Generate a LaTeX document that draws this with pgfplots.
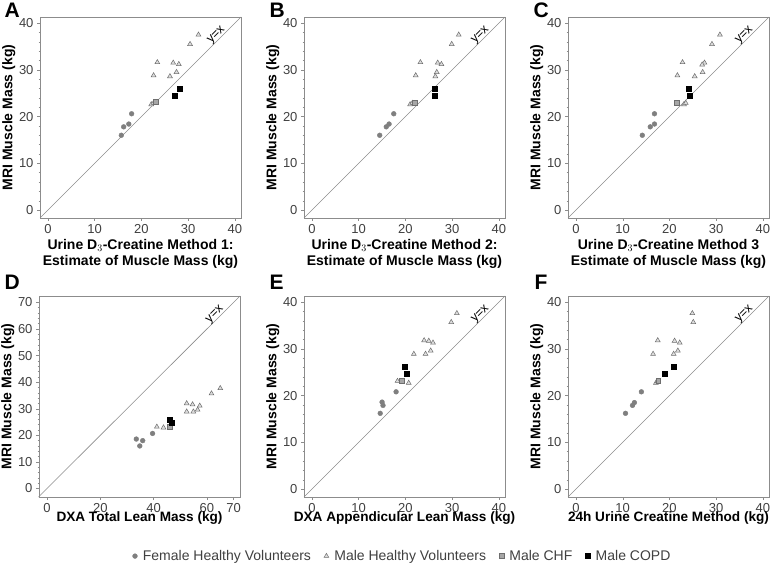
\documentclass[border=0pt]{standalone}
\usepackage{pgfplots}
\pgfplotsset{compat=1.18}
\usepackage{fontspec}
\setmainfont{Liberation Sans}
\definecolor{tickgray}{HTML}{404040}
\definecolor{axgray}{HTML}{8C8C8C}
\definecolor{fgray}{HTML}{7F7F7F}
\definecolor{tgray}{HTML}{6E6E6E}
\definecolor{tfill}{HTML}{DDDDDD}
\definecolor{cfill}{HTML}{A6A6A6}
\pgfplotsset{
  panel/.style={scale only axis, width=201pt, height=201pt,
    axis line style={axgray}, tick align=outside, tick pos=left,
    major tick length=3pt, minor tick length=1.5pt,
    every tick/.style={axgray}, minor y tick num=4,
    tick label style={font=\fontsize{13}{15}\selectfont, text=tickgray},
    /pgf/number format/assume math mode=true,
    ylabel={MRI Muscle Mass (kg)},
    ylabel style={font=\bfseries\fontsize{14}{16}\selectfont, at={(axis description cs:-0.155,0.5)}, anchor=center},
    clip=false},
  p40/.style={panel, xmin=-1.7, xmax=41.3, ymin=-1.7, ymax=41.3,
    xtick={0,10,20,30,40}, ytick={0,10,20,30,40}},
  xl2/.style={xlabel style={font=\bfseries\fontsize{14}{16}\selectfont, align=center, at={(axis description cs:0.5,-0.18)}, anchor=center}},
  xl1/.style={xlabel style={font=\bfseries\fontsize{13.6}{16}\selectfont, at={(axis description cs:0.5,-0.106)}, anchor=center}},
  fem/.style={only marks, mark=*, mark size=2.4pt, mark options={draw=fgray, fill=fgray}},
  mal/.style={only marks, mark=triangle*, mark size=2.8pt, mark options={draw=tgray, fill=tfill, line width=0.5pt}},
  chf/.style={only marks, mark=square*, mark size=2.4pt, mark options={draw=tgray, fill=cfill, line width=0.5pt}},
  copd/.style={only marks, mark=square*, mark size=2.4pt, mark options={draw=black, fill=black}},
  idl/.style={axgray, line width=0.6pt, forget plot},
}
\newcommand{\yx}[2]{\node[rotate=45, font=\fontsize{12.5}{15}\selectfont] at (axis cs:#1,#2) {y=x};}
\begin{document}
\begin{tikzpicture}
\path[use as bounding box] (0,0) rectangle (770pt,565pt);
\node[anchor=base west, font=\bfseries\fontsize{21}{24}\selectfont] at (1pt,547pt) {A};
\node[anchor=base west, font=\bfseries\fontsize{21}{24}\selectfont] at (266pt,547pt) {B};
\node[anchor=base west, font=\bfseries\fontsize{21}{24}\selectfont] at (530pt,547pt) {C};
\node[anchor=base west, font=\bfseries\fontsize{21}{24}\selectfont] at (1pt,275pt) {D};
\node[anchor=base west, font=\bfseries\fontsize{21}{24}\selectfont] at (266pt,275pt) {E};
\node[anchor=base west, font=\bfseries\fontsize{21}{24}\selectfont] at (531pt,275pt) {F};

% Panel A
\begin{axis}[p40, xl2, at={(40pt,347pt)}, anchor=south west,
  xlabel={Urine D$_3$-Creatine Method 1:\\Estimate of Muscle Mass (kg)}]
\addplot[idl] coordinates {(-1.7,-1.7) (41.3,41.3)};
\addplot[fem] coordinates {(15.7,16.0) (16.2,17.8) (17.3,18.4) (17.9,20.6)};
\addplot[mal] coordinates {(32.2,37.5) (30.4,35.5) (23.4,31.6) (26.8,31.5) (28.0,31.2) (22.6,28.8) (26.1,28.6) (27.5,29.5) (22.1,22.6) (22.6,22.9)};
\addplot[chf] coordinates {(23.0,23.1)};
\addplot[copd] coordinates {(27.2,24.4) (28.2,25.9)};
\yx{36.1}{37.4}
\end{axis}

% Panel B
\begin{axis}[p40, xl2, at={(304pt,347pt)}, anchor=south west,
  xlabel={Urine D$_3$-Creatine Method 2:\\Estimate of Muscle Mass (kg)}]
\addplot[idl] coordinates {(-1.7,-1.7) (41.3,41.3)};
\addplot[fem] coordinates {(14.5,16.0) (15.9,17.8) (16.5,18.4) (17.5,20.6)};
\addplot[mal] coordinates {(31.4,37.5) (29.9,35.5) (23.2,31.6) (26.9,31.5) (27.7,31.2) (22.2,28.8) (26.4,28.6) (26.7,29.5) (21.0,22.6) (21.5,22.9)};
\addplot[chf] coordinates {(22.0,23.0)};
\addplot[copd] coordinates {(26.3,24.4) (26.3,25.9)};
\yx{36.1}{37.4}
\end{axis}

% Panel C
\begin{axis}[p40, xl2, at={(568pt,347pt)}, anchor=south west,
  xlabel={Urine D$_3$-Creatine Method 3\\Estimate of Muscle Mass (kg)}]
\addplot[idl] coordinates {(-1.7,-1.7) (41.3,41.3)};
\addplot[fem] coordinates {(14.2,16.0) (15.9,17.8) (16.8,18.4) (16.8,20.6)};
\addplot[mal] coordinates {(30.8,37.5) (29.1,35.5) (22.8,31.6) (27.5,31.5) (27.0,31.1) (21.7,28.8) (25.4,28.6) (27.1,29.5) (23.1,22.6) (23.5,22.9)};
\addplot[chf] coordinates {(21.5,23.0)};
\addplot[copd] coordinates {(24.4,24.4) (24.1,25.9)};
\yx{36.1}{37.4}
\end{axis}

% Panel D
\begin{axis}[panel, xl1, at={(39pt,68pt)}, anchor=south west,
  xmin=-3, xmax=72.4, ymin=-3.2, ymax=72.4,
  xtick={0,20,40,60,70}, ytick={0,10,20,30,40,50,60,70},
  xlabel={DXA Total Lean Mass (kg)}]
\addplot[idl] coordinates {(-3.2,-3.2) (72.4,72.4)};
\addplot[fem] coordinates {(33.5,18.6) (34.8,16.0) (35.9,18.0) (39.6,20.7)};
\addplot[mal] coordinates {(65.0,37.7) (61.7,35.7) (52.4,32.0) (54.6,31.6) (57.3,31.1) (52.4,28.9) (54.9,28.9) (56.5,29.6) (41.2,23.2) (43.7,22.9)};
\addplot[chf] coordinates {(46.0,23.3)};
\addplot[copd] coordinates {(46.0,26.0) (46.8,24.6)};
\yx{63.1}{65.4}
\end{axis}

% Panel E
\begin{axis}[p40, xl1, at={(304pt,68pt)}, anchor=south west,
  xlabel={DXA Appendicular Lean Mass (kg)},
  legend columns=4,
  legend style={at={(axis description cs:0.49,-0.294)}, anchor=center, draw=none,
    font=\fontsize{14}{16}\selectfont, text=tickgray,
    /tikz/every odd column/.append style={column sep=3.5pt},
    /tikz/every even column/.append style={column sep=11pt}},
  legend image code/.code={\draw[#1] plot coordinates {(0pt,0pt)};}]
\addplot[idl] coordinates {(-1.7,-1.7) (41.3,41.3)};
\addplot[fem] coordinates {(14.6,16.2) (15.0,18.6) (15.2,17.9) (18.0,20.8)};
\addplot[mal] coordinates {(31.0,37.6) (29.8,35.7) (24.0,31.8) (25.0,31.7) (25.9,31.3) (21.8,28.9) (24.3,28.9) (25.4,29.6) (18.3,23.1) (20.7,22.7)};
\addplot[chf] coordinates {(19.2,23.1)};
\addplot[copd] coordinates {(19.9,26.1) (20.2,24.6)};
\legend{Female Healthy Volunteers, Male Healthy Volunteers, Male CHF, Male COPD}
\yx{36.1}{37.4}
\end{axis}

% Panel F
\begin{axis}[p40, xl1, at={(568pt,68pt)}, anchor=south west,
  xlabel={24h Urine Creatine Method (kg)}]
\addplot[idl] coordinates {(-1.7,-1.7) (41.3,41.3)};
\addplot[fem] coordinates {(10.6,16.2) (12.1,17.9) (12.5,18.5) (14.0,20.8)};
\addplot[mal] coordinates {(24.9,37.6) (25.1,35.7) (17.5,31.8) (21.1,31.7) (22.2,31.3) (16.5,28.9) (20.9,28.9) (21.8,29.6) (17.1,22.7) (17.4,23.0)};
\addplot[chf] coordinates {(17.6,23.1)};
\addplot[copd] coordinates {(19.0,24.6) (20.9,26.1)};
\yx{36.1}{37.4}
\end{axis}
\end{tikzpicture}
\end{document}
